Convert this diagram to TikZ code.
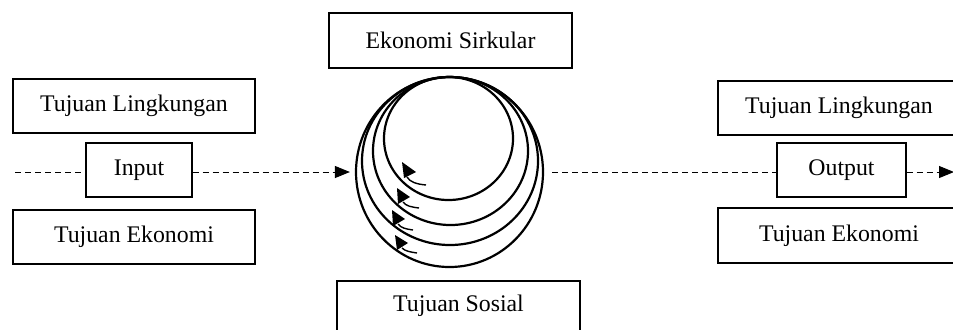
\documentclass[tikz,border=0pt]{standalone}
\usepackage{fontspec}
\setmainfont{Liberation Serif}
\usetikzlibrary{arrows.meta,shapes.geometric}
\tikzset{
  lbl/.style={draw, line width=0.6pt, inner sep=0pt, minimum height=27pt, font=\fontsize{11.9}{14}\selectfont},
  wide/.style={lbl, minimum width=121pt},
  ring/.style={line width=1.1pt},
  flow/.style={dashed, dash pattern=on 3pt off 2pt, line width=0.5pt},
  tip/.style={-{Triangle[length=7.5pt,width=6pt]}},
  curl/.style={fill=black},
  tail/.style={line width=0.7pt},
}
\begin{document}
\begin{tikzpicture}[x=0.5pt,y=-0.5pt]
\useasboundingbox (0,0) rectangle (953,329);
\clip (0,0) rectangle (953,329);
% boxes
\node[lbl, minimum width=121.5pt, minimum height=27.5pt] (ekS) at (450.5,40.5) {Ekonomi Sirkular};
\node[wide] (tlL) at (134,106) {Tujuan Lingkungan};
\node[lbl, minimum width=53pt] (inp) at (139,170) {Input};
\node[wide] (teL) at (134,237) {Tujuan Ekonomi};
\node[wide] (tlR) at (839,108) {Tujuan Lingkungan};
\node[lbl, minimum width=64.5pt] (out) at (841.5,170) {Output};
\node[wide, minimum height=27.5pt] (teR) at (839,235.5) {Tujuan Ekonomi};
\node[lbl, minimum width=121.5pt, minimum height=25pt] (sos) at (458.5,306) {Tujuan Sosial};
% rings
\node[draw, ring, ellipse, inner sep=0pt, minimum width=93.5pt, minimum height=95pt] (eco) at (449.5,172) {};
\draw[ring] (448.5,138.5) ellipse [x radius=32.25pt, y radius=30.75pt];
\draw[ring] (450.5,151) ellipse [x radius=38.75pt, y radius=37pt];
\draw[ring] (450,161) ellipse [x radius=44pt, y radius=42pt];
% curled arrows
\fill[curl] (402,162) -- (404,178) -- (416,172) -- cycle;
\draw[tail] (407,177) .. controls (410,182) and (416,184) .. (426,185);
\fill[curl] (397,188) -- (398,204) -- (410,197) -- cycle;
\draw[tail] (403,202) .. controls (406,206) and (411,207) .. (419,208);
\fill[curl] (392,210) -- (393,226) -- (405,219) -- cycle;
\draw[tail] (398,224) .. controls (401,228) and (406,229) .. (413,230);
\fill[curl] (395,235) -- (397,250) -- (408,243) -- cycle;
\draw[tail] (402,248) .. controls (405,251) and (410,252) .. (417,253);
% flow
\coordinate (inL) at (15,172);
\coordinate (outR) at (954,172);
\draw[flow] (inL) -- (inL -| inp.west);
\draw[flow, tip, shorten >=2.5pt] (inp.east |- eco.west) -- (eco.west);
\draw[flow, shorten <=4pt] (eco.east) -- (eco.east -| out.west);
\draw[flow, tip] (out.east |- outR) -- (outR);
\end{tikzpicture}
\end{document}
